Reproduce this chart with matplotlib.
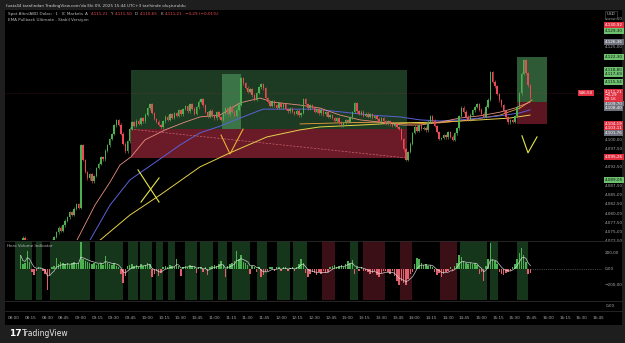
import numpy as np
import pandas as pd
import matplotlib
matplotlib.use("Agg")
import matplotlib.pyplot as plt
from matplotlib.patches import Rectangle
from matplotlib import transforms

W, H = 625, 343

# ---------------- data ----------------
start_minute = 6          # minutes after 08:00 of first candle
bar_minutes = 2
first_open = 4071.6
closes = [
    4072.0, 4073.5, 4072.8, 4071.5, 4070.8, 4071.2, 4070.5, 4069.8, 4070.6, 4071.3,
    4070.9, 4071.8, 4072.4, 4071.9, 4072.8, 4073.6, 4074.9, 4076.2, 4075.4, 4076.8,
    4078.1, 4079.0, 4080.4, 4079.6, 4081.3, 4082.5, 4081.6, 4098.5, 4094.5, 4091.2,
    4089.5, 4090.6, 4088.7, 4090.1, 4092.3, 4093.5, 4095.2, 4094.6, 4097.0, 4098.4,
    4100.1, 4101.5, 4103.8, 4105.2, 4104.0, 4101.6, 4098.9, 4096.8, 4099.5, 4102.9,
    4104.6, 4103.7, 4105.1, 4104.3, 4105.8, 4104.9, 4106.7, 4108.4, 4109.6, 4107.2,
    4105.5, 4104.8, 4103.9, 4103.3, 4104.9, 4106.2, 4105.4, 4106.8, 4105.9, 4107.1,
    4106.3, 4107.9, 4106.8, 4108.2, 4109.1, 4107.6, 4109.6, 4108.3, 4106.9, 4108.7,
    4110.2, 4111.0, 4109.2, 4107.4, 4106.2, 4107.8, 4106.5, 4105.7, 4107.3, 4106.1,
    4105.4, 4107.0, 4108.4, 4106.8, 4108.9, 4107.5, 4106.3, 4108.1, 4109.4, 4116.5,
    4115.2, 4114.0, 4112.8, 4113.6, 4111.9, 4110.8, 4112.6, 4114.1, 4114.9, 4113.8,
    4111.2, 4110.1, 4109.0, 4110.3, 4109.2, 4108.5, 4109.8, 4108.7, 4109.5, 4108.2,
    4107.6, 4108.3, 4107.4, 4106.9, 4107.8, 4106.5, 4107.2, 4110.9, 4109.6, 4108.4,
    4109.3, 4108.6, 4107.5, 4108.2, 4107.1, 4108.0, 4106.8, 4107.4, 4106.1, 4106.6,
    4105.8, 4105.0, 4105.7, 4104.6, 4103.8, 4104.5, 4105.2, 4104.8, 4106.0, 4107.4,
    4109.8, 4107.6, 4106.9, 4107.5, 4106.3, 4107.0, 4106.2, 4106.8, 4105.9, 4106.4,
    4105.6, 4105.1, 4105.8, 4104.9, 4104.3, 4104.9, 4104.1, 4103.6, 4104.2, 4103.4,
    4102.8, 4100.1, 4097.3, 4094.5, 4096.6, 4098.9, 4101.8, 4103.5, 4102.4, 4103.9,
    4102.8, 4103.2, 4102.5, 4104.8, 4106.3, 4105.1, 4103.6, 4102.0, 4100.2, 4100.4,
    4101.2, 4100.6, 4101.9, 4100.8, 4099.9, 4101.7, 4103.0, 4106.4, 4108.6, 4107.5,
    4106.2, 4105.4, 4106.7, 4107.9, 4108.8, 4109.5, 4108.1, 4107.0, 4106.2, 4108.9,
    4110.8, 4118.2, 4115.6, 4114.4, 4112.3, 4110.6, 4109.2, 4107.6, 4106.0, 4104.6,
    4105.2, 4104.8, 4106.3, 4108.7, 4112.5, 4117.8, 4121.4, 4118.0, 4114.6, 4111.2,
]
volume_hist = [
    170, 60, 80, 220, 90, -40, -70, -30, 20, 15,
    -20, -60, -260, -80, 30, 40, 140, 60, 90, 70,
    60, 80, 50, 70, 90, 60, 80, 340, 120, 100,
    90, 80, 60, 70, 50, 60, 80, 50, 160, 70,
    60, 50, 70, 40, 20, -60, -170, -90, 40, 50,
    60, 40, 50, 30, 60, 40, 50, 80, 60, -100,
    -60, -20, -90, -50, 30, 40, 20, 50, 40, 30,
    130, 40, -90, 30, 40, 30, 50, 40, 30, -50,
    30, 20, -40, 20, -80, 30, 40, 50, 40, 60,
    100, 50, -100, 40, 60, 80, 100, 220, 120, 180,
    90, 70, 50, -60, 40, 30, -40, 20, -100, -80,
    -40, -30, 20, 30, -30, 25, 20, -20, 30, 20,
    -30, 15, 20, -20, 30, 60, 130, 80, -50, -100,
    -60, -40, -50, -70, -40, -60, -30, -50, -40, 30,
    40, 50, 30, 40, 50, 30, 60, 100, 80, 110,
    -60, 20, -20, 30, -30, -20, -40, -60, -50, -30,
    -70, -100, -50, -30, -20, -40, -60, -30, -90, -150,
    -200, -150, -180, -200, -120, -60, -40, 60, 140, 120,
    80, 50, 60, 40, 50, 30, -40, -70, -50, -100,
    -60, -40, -30, 20, -20, 40, 80, 180, 150, 100,
    70, 60, 80, 60, 70, 50, -60, -40, -150, 40,
    120, 325, 120, 100, 60, -40, -60, -70, -50, -40,
    -30, 20, 60, 120, 200, 260, 180, 90, -60, -50,
]

# moving averages (minute, price)
ema_pink_min = [56.6, 72.8, 86.3, 95.2, 105.1, 117.7, 135.7, 153.6, 167.1, 185.1, 203.1, 221.0, 232.7,
                257.0, 274.9, 292.9, 310.9, 328.8, 349.5, 364.8, 382.7, 400.7, 418.7, 436.7, 450.1, 463.6]
ema_pink_val = [4072.8, 4082.3, 4088.5, 4093.1, 4095.3, 4099.9, 4102.6, 4104.7, 4106.1, 4106.6, 4109.9, 4111.2, 4110.1,
                4109.3, 4108.5, 4106.6, 4105.3, 4104.7, 4103.9, 4103.9, 4104.7, 4105.8, 4106.4, 4107.4, 4108.5, 4110.1]
ema_blue_min = [68.3, 86.3, 104.2, 133.9, 149.1, 167.1, 185.1, 203.1, 223.7, 248.0, 270.4, 295.6, 319.9,
                346.8, 364.8, 382.7, 400.7, 418.7, 436.7, 454.6, 463.6]
ema_blue_val = [4072.8, 4082.3, 4089.1, 4095.3, 4098.5, 4101.8, 4103.6, 4105.8, 4108.2, 4108.2, 4108.2, 4107.4, 4106.6,
                4106.1, 4105.3, 4105.0, 4105.3, 4105.8, 4106.4, 4107.2, 4108.0]
ema_yellow_min = [77.3, 104.2, 131.2, 167.1, 194.1, 227.3, 257.0, 274.9, 310.9, 346.8, 382.7, 418.7, 445.6, 463.6]
ema_yellow_val = [4072.8, 4079.6, 4085.0, 4092.6, 4096.4, 4100.7, 4102.6, 4103.4, 4103.9, 4104.5, 4104.7, 4105.3, 4105.8, 4106.6]
ema_orange_min = [257.0, 292.9, 328.8, 355.8, 382.7, 409.7, 436.7, 454.6, 465.4]
ema_orange_val = [4104.2, 4104.5, 4104.7, 4104.2, 4104.5, 4105.3, 4106.6, 4108.5, 4110.7]

# zones (minute start, minute end, price top, price mid, price bottom)
zone_main = (105.1, 353.1, 4118.8, 4102.8, 4095.0)
zone_highlight = (186.9, 204.0, 4117.7, 4102.8)
zone_right = (451.9, 478.9, 4122.3, 4110.1, 4104.2)
dash_line_min = [105.1, 353.1]
dash_line_val = [4102.8, 4095.0]

# hand drawings
x_mark_a = ([111.4, 130.3], [4091.8, 4083.1])
x_mark_b = ([130.3, 114.1], [4089.6, 4083.1])
v_mark_1 = ([186.0, 194.1, 205.8], [4101.2, 4096.1, 4102.8])
v_mark_2 = ([456.4, 461.8, 469.9], [4101.0, 4096.4, 4100.7])

# indicator background bands (minutes)
green_band_start = [1, 20, 32, 73, 102, 113, 128, 138, 154, 167, 183, 196, 218, 236, 251, 302, 401, 428, 452]
green_band_end = [16, 25, 68, 98, 111, 124, 134, 145, 164, 179, 191, 212, 227, 248, 263, 309, 425, 435, 462]
red_band_start = [277, 314, 347, 383]
red_band_end = [288, 333, 358, 398]

time_labels = ["08:00", "08:15", "08:30", "08:45", "09:00", "09:15", "09:30", "09:45",
               "10:00", "10:15", "10:30", "10:45", "11:00", "11:15", "11:30", "11:45",
               "12:00", "12:15", "12:30", "12:45", "13:00", "13:15", "13:30", "13:45",
               "14:00", "14:15", "14:30", "14:45", "15:00", "15:15", "15:30", "15:45",
               "16:00", "16:15", "16:30", "16:45"]

box_prices = [4130.92, 4129.30, 4126.36, 4122.30, 4118.80, 4117.69, 4115.54,
              4109.70, 4108.40, 4104.19, 4103.11, 4101.76, 4095.26, 4089.05]
box_kinds = ["red", "green", "grey", "green", "green", "green", "green",
             "grey", "grey", "red", "red", "grey", "red", "green"]
last_price = 4111.21
last_price_line = 4112.6

# ---------------- figure ----------------
BG_OUT = "#1e1e1e"
fig = plt.figure(figsize=(W / 100, H / 100), dpi=100, facecolor=BG_OUT)


def fx(px):
    return px / W


def fy(py):
    return 1 - py / H


bg = Rectangle((fx(5), fy(325)), fx(622) - fx(5), (325 - 10) / H,
               transform=fig.transFigure, facecolor="black", edgecolor="none", zorder=-10)
fig.add_artist(bg)

XMIN, XMAX = -8.09, 528.3
ax = fig.add_axes([fx(5), fy(240), (602 - 5) / W, (240 - 10) / H], facecolor="black")
axi = fig.add_axes([fx(5), fy(300), (602 - 5) / W, (300 - 241) / H], facecolor="black")
for a in (ax, axi):
    a.set_xlim(XMIN, XMAX)
    for s in a.spines.values():
        s.set_visible(False)
    a.set_xticks([])
    a.set_yticks([])
ax.set_ylim(4072.84, 4135.0)
axi.set_ylim(-387.5, 350)

n = len(closes)
mins = start_minute + bar_minutes * np.arange(n)
opens = [first_open] + closes[:-1]

GREEN = "#4caf50"
RED = "#e84b55"

# zones
m0, m1, top, mid, bot = zone_main
ax.add_patch(Rectangle((m0, mid), m1 - m0, top - mid, facecolor="#1d3a22", edgecolor="none", zorder=1))
ax.add_patch(Rectangle((m0, bot), m1 - m0, mid - bot, facecolor="#6b1a28", edgecolor="none", zorder=1))
h0, h1, htop, hbot = zone_highlight
ax.add_patch(Rectangle((h0, hbot), h1 - h0, htop - hbot, facecolor="#3b7446", edgecolor="none", zorder=1.5))
r0, r1, rtop, rmid, rbot = zone_right
ax.add_patch(Rectangle((r0, rmid), r1 - r0, rtop - rmid, facecolor="#2e5a36", edgecolor="none", zorder=1))
ax.add_patch(Rectangle((r0, rbot), r1 - r0, rmid - rbot, facecolor="#5c1622", edgecolor="none", zorder=1))

# last price line
ax.axhline(last_price_line, color="#c04050", lw=0.4, ls=(0, (1, 2)), alpha=0.6, zorder=1.6)

# moving averages
ax.plot(ema_yellow_min, ema_yellow_val, color="#e6d24a", lw=0.7, zorder=2)
ax.plot(ema_orange_min, ema_orange_val, color="#f0a040", lw=0.6, zorder=2)
ax.plot(ema_blue_min, ema_blue_val, color="#5a62d8", lw=0.7, zorder=2)
ax.plot(ema_pink_min, ema_pink_val, color="#e89080", lw=0.6, zorder=2)
ax.plot(dash_line_min, dash_line_val, color="#e07a80", lw=0.5, ls=(0, (3, 2)), alpha=0.8, zorder=2)

# candles
for m, o, c in zip(mins, opens, closes):
    col = GREEN if c >= o else RED
    hi = max(o, c) + 0.35
    lo = min(o, c) - 0.35
    ax.vlines(m, lo, hi, color=col, lw=0.45, zorder=3)
    body = max(abs(c - o), 0.15)
    ax.add_patch(Rectangle((m - 0.65, min(o, c)), 1.3, body, facecolor=col, edgecolor="none", zorder=3))

# hand drawings
ax.plot(*x_mark_a, color="#e8e84a", lw=0.8, zorder=4)
ax.plot(*x_mark_b, color="#e8e84a", lw=0.8, zorder=4)
ax.plot(*v_mark_1, color="#f0b030", lw=0.8, zorder=4)
ax.plot(*v_mark_2, color="#e8e84a", lw=0.8, zorder=4)

# ---------------- indicator ----------------
for s, e in zip(green_band_start, green_band_end):
    axi.axvspan(s, e, color="#15361b", lw=0, zorder=0)
for s, e in zip(red_band_start, red_band_end):
    axi.axvspan(s, e, color="#3a1016", lw=0, zorder=0)
hist = np.array(volume_hist, dtype=float)
axi.bar(mins, hist, width=1.3, color=[GREEN if v >= 0 else "#e0606e" for v in hist], lw=0, zorder=2)
signal = pd.Series(hist).ewm(span=6).mean()
axi.plot(mins, signal, color="#e8e8e8", lw=0.5, alpha=0.85, zorder=3)
axi.plot([mins[-1], XMAX], [0, 0], color="#777777", lw=0.4, ls=(0, (2, 2)), zorder=1)

# separators
for yy in (240.5, 300.5, 310.5):
    fig.add_artist(plt.Line2D([fx(5), fx(622)], [fy(yy), fy(yy)], color="#2b2b2b", lw=0.6))

# ---------------- text ----------------
FS = 3.0
TXT = "#b8b8b8"
renderer = fig.canvas.get_renderer()


def text_run(x0, ypx, items):
    x = x0
    for t, c in items:
        tt = fig.text(fx(x), fy(ypx), t, fontsize=FS, color=c, va="center", ha="left")
        bb = tt.get_window_extent(renderer=renderer)
        x = x + bb.width + 2.2


fig.text(fx(6), fy(5.5), "fuatz44 tarafından TradingView.com'da Eki 09, 2025 15:44 UTC+3 tarihinde oluşturuldu",
         fontsize=FS, color="#d0d0d0", va="center", ha="left")
text_run(8, 14.3, [("Spot Altın/ABD Doları · 1 · IC Markets", TXT), ("A", TXT), ("4.111,21", RED),
                   ("Y", TXT), ("4.111,50", RED), ("D", TXT), ("4.110,65", RED),
                   ("K", TXT), ("4.111,21", RED), ("−0,29 (−0,01%)", RED)])
fig.text(fx(8), fy(20.3), "EMA Pullback Ultimate - Stabil Versiyon", fontsize=FS, color=TXT, va="center")
fig.text(fx(7), fy(246), "Hero Volume Indicator", fontsize=FS, color=TXT, va="center")

# time labels
ttr = transforms.blended_transform_factory(axi.transData, fig.transFigure)
for k, lab in enumerate(time_labels):
    axi.text(15 * k, fy(318), lab, transform=ttr, fontsize=FS, color="#a8a8a8",
             ha="center", va="center", clip_on=False)

# price scale
ptr = transforms.blended_transform_factory(ax.transAxes, ax.transData)
px_per_unit = 230 / (4135.0 - 4072.84)
box_fc = {"red": "#e0303f", "green": "#6cc070", "grey": "#6f727c"}
box_tc = {"red": "white", "green": "#0d1a0d", "grey": "white"}
taken = box_prices + [last_price_line, last_price_line - 2]


def fmt(p):
    return f"{p:,.2f}".replace(",", "X").replace(".", ",").replace("X", ".")


for p in np.arange(4072.5, 4135.0, 2.5):
    if min(abs(p - q) for q in taken) * px_per_unit < 4.5:
        continue
    ax.text(1.005, p, fmt(p), transform=ptr, fontsize=FS, color="#a8a8a8", ha="left", va="center", clip_on=False)
for p, k in zip(box_prices, box_kinds):
    ax.text(1.005, p, fmt(p), transform=ptr, fontsize=FS, color=box_tc[k], ha="left", va="center", clip_on=False,
            bbox=dict(boxstyle="square,pad=0.15", fc=box_fc[k], ec="none"))
ax.text(1.005, last_price_line + 0.9, fmt(last_price) + "\n−0,29\n00:16", transform=ptr, fontsize=FS,
        color="white", ha="left", va="top", clip_on=False, linespacing=0.95,
        bbox=dict(boxstyle="square,pad=0.2", fc="#e0303f", ec="none"))
ax.text(0.985, last_price_line, "546,50", transform=ptr, fontsize=FS, color="white", ha="right", va="center",
        clip_on=False, bbox=dict(boxstyle="square,pad=0.25", fc="#e0303f", ec="none"))
ax.text(1.008, 4133.8, "USD", transform=ptr, fontsize=FS, color="#c8c8c8", ha="left", va="center",
        clip_on=False, bbox=dict(boxstyle="square,pad=0.35", fc="black", ec="#555555", lw=0.4))

itr = transforms.blended_transform_factory(axi.transAxes, axi.transData)
for v, lab in [(200, "200,00"), (0, "0,00"), (-200, "−200,00")]:
    axi.text(1.005, v, lab, transform=itr, fontsize=FS, color="#a8a8a8", ha="left", va="center", clip_on=False)
fig.text(fx(606), fy(306), "0,00", fontsize=FS, color="#a8a8a8", va="center")

# logo
fig.text(fx(9), fy(333), "17", fontsize=6.5, color="white", fontweight="bold", va="center")
fig.text(fx(22), fy(333), "TradingView", fontsize=5.5, color="#e8e8e8", va="center")

fig.savefig("out.png", dpi=100, facecolor=BG_OUT)
